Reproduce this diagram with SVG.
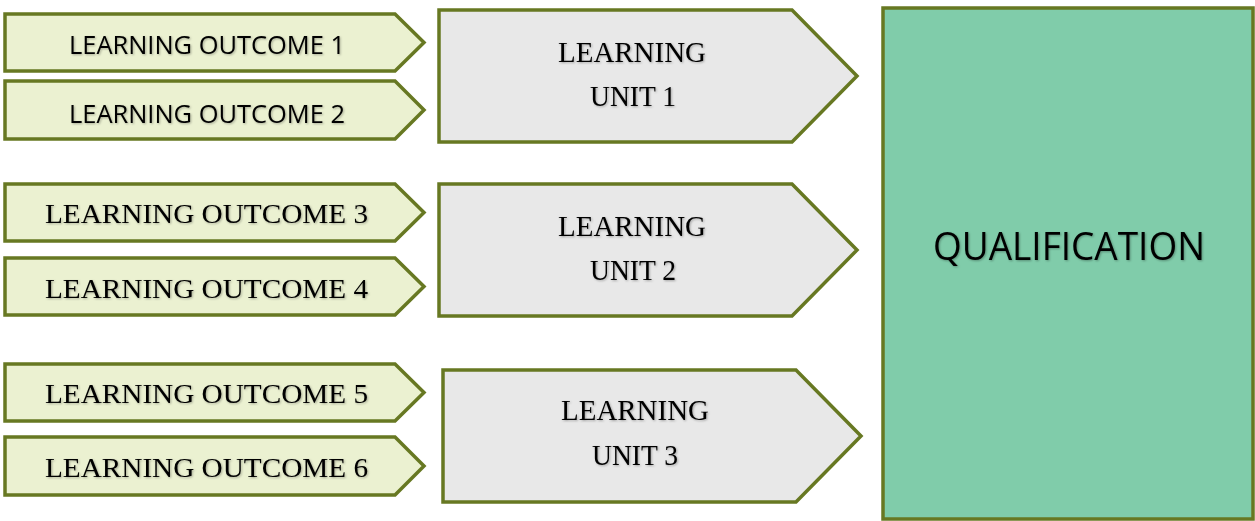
<svg xmlns="http://www.w3.org/2000/svg" width="1255" height="521" viewBox="0 0 1255 521">
<style>
.lo{fill:#EBF1D1;stroke:#677822;stroke-width:3.5;stroke-linejoin:miter}
.lu{fill:#E8E8E8;stroke:#677822;stroke-width:3.5}
.q{fill:#80CCAA;stroke:#677822;stroke-width:3.5}
.sans{font-family:"Open Sans","Liberation Sans",sans-serif;fill:#000;text-anchor:middle}
.serif{font-family:"Liberation Serif","Times New Roman",serif;fill:#000;text-anchor:middle}
.t{filter:url(#sh)}
</style>
<defs>
<filter id="sh" x="-10%" y="-30%" width="120%" height="160%">
<feDropShadow dx="1" dy="1" stdDeviation="1" flood-color="#000" flood-opacity="0.3"/>
</filter>
</defs>
<g id="connectors"></g>
<g id="lo1">
<polygon class="lo" points="5,14 395,14 424,42.5 395,71 5,71"/>
<text class="sans t" x="207" y="54" font-size="25" textLength="276" lengthAdjust="spacingAndGlyphs">LEARNING OUTCOME 1</text>
</g>
<g id="lo2">
<polygon class="lo" points="5,81 395,81 424,110 395,139 5,139"/>
<text class="sans t" x="207" y="123" font-size="25" textLength="276" lengthAdjust="spacingAndGlyphs">LEARNING OUTCOME 2</text>
</g>
<g id="lo3">
<polygon class="lo" points="5,184 395,184 424,212.5 395,241 5,241"/>
<text class="serif t" x="206.5" y="223" font-size="28" textLength="323" lengthAdjust="spacingAndGlyphs">LEARNING OUTCOME 3</text>
</g>
<g id="lo4">
<polygon class="lo" points="5,258 395,258 424,286.5 395,315 5,315"/>
<text class="serif t" x="206.5" y="298" font-size="28" textLength="323" lengthAdjust="spacingAndGlyphs">LEARNING OUTCOME 4</text>
</g>
<g id="lo5">
<polygon class="lo" points="5,364 395,364 424,392.5 395,421 5,421"/>
<text class="serif t" x="206.5" y="403" font-size="28" textLength="323" lengthAdjust="spacingAndGlyphs">LEARNING OUTCOME 5</text>
</g>
<g id="lo6">
<polygon class="lo" points="5,437 395,437 424,466 395,495 5,495"/>
<text class="serif t" x="206.5" y="477" font-size="28" textLength="323" lengthAdjust="spacingAndGlyphs">LEARNING OUTCOME 6</text>
</g>
<g id="unit1">
<polygon class="lu" points="439,10 792,10 857,76 792,142 439,142"/>
<text class="serif t" x="632" y="62" font-size="28.5" textLength="148" lengthAdjust="spacingAndGlyphs">LEARNING</text>
<text class="serif t" x="633" y="106" font-size="28.5" textLength="86" lengthAdjust="spacingAndGlyphs">UNIT 1</text>
</g>
<g id="unit2">
<polygon class="lu" points="439,184 792,184 857,250 792,316 439,316"/>
<text class="serif t" x="632" y="236" font-size="28.5" textLength="148" lengthAdjust="spacingAndGlyphs">LEARNING</text>
<text class="serif t" x="633" y="280" font-size="28.5" textLength="86" lengthAdjust="spacingAndGlyphs">UNIT 2</text>
</g>
<g id="unit3">
<polygon class="lu" points="443,370 796,370 861,436 796,502 443,502"/>
<text class="serif t" x="635" y="420" font-size="28.5" textLength="148" lengthAdjust="spacingAndGlyphs">LEARNING</text>
<text class="serif t" x="635" y="465" font-size="28.5" textLength="86" lengthAdjust="spacingAndGlyphs">UNIT 3</text>
</g>
<g id="qualification">
<rect class="q" x="883" y="8" width="370" height="511"/>
<text class="sans t" x="1069" y="260" font-size="39" textLength="272" lengthAdjust="spacingAndGlyphs">QUALIFICATION</text>
</g>
</svg>
